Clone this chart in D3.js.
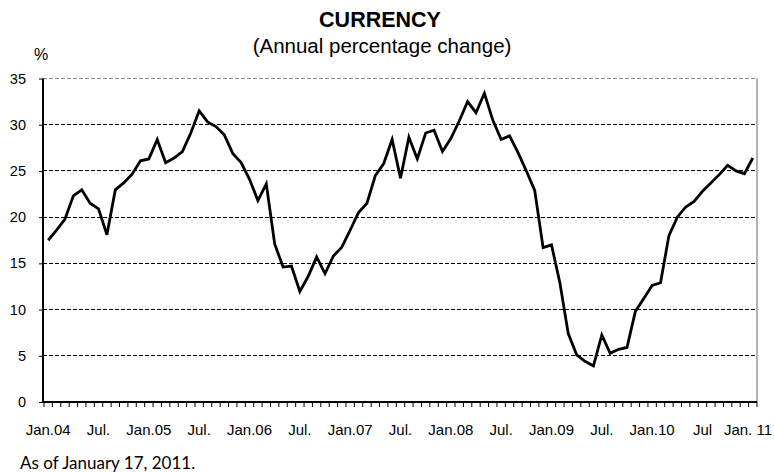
<!DOCTYPE html>
<html><head><meta charset="utf-8">
<script src="https://cdn.jsdelivr.net/npm/d3@7/dist/d3.min.js"></script>
<style>body{margin:0;background:#fff}svg{display:block}</style>
</head><body><svg id="c" width="774" height="472"></svg>
<script>
// Monthly annual % change of currency, Jan.2004 .. Jan.2011
const values = [
 17.5,18.6,19.8,22.3,22.95,21.5,20.9,18.1,22.95,23.7,24.65,26.1,
 26.3,28.4,25.9,26.4,27.1,29.1,31.5,30.3,29.8,28.9,26.9,25.9,
 24.1,21.8,23.6,17.1,14.6,14.7,11.95,13.6,15.7,13.9,15.8,16.75,
 18.6,20.5,21.5,24.5,25.8,28.4,24.2,28.65,26.3,29.1,29.4,27.1,
 28.5,30.4,32.5,31.3,33.4,30.5,28.4,28.8,27.0,25.0,22.9,16.7,
 17.0,12.9,7.4,5.1,4.4,3.9,7.25,5.27,5.7,5.9,9.8,11.2,
 12.6,12.9,18.0,20.0,21.1,21.7,22.8,23.7,24.6,25.6,25.0,24.7,
 26.4
];
const months = values.map((v,i)=>i);
const tickLabels = ["Jan.04","Jul.","Jan.05","Jul.","Jan.06","Jul.","Jan.07","Jul.","Jan.08","Jul.","Jan.09","Jul.","Jan.10","Jul","Jan. 11"];
const tickIndex = tickLabels.map((t,k)=>k*6);
const yTicks = [0,5,10,15,20,25,30,35];

const svg = d3.select("#c");
const L=43, R=757, T=78.5, B=402;
const x = d3.scaleBand().domain(months).range([44,757]).padding(0);
const cx = i => x(i)+x.bandwidth()/2;
const y = d3.scaleLinear().domain([0,35]).range([B,T]);
const font = "'Liberation Sans', Arial, sans-serif";

// gridlines
svg.append("g").selectAll("line").data(yTicks.filter(d=>d>0)).join("line")
  .attr("x1",L).attr("x2",R).attr("y1",d=>y(d)).attr("y2",d=>y(d))
  .attr("stroke",d=>d===35?"#888":"#000").attr("stroke-width",1)
  .attr("stroke-dasharray","4,2").attr("shape-rendering","crispEdges");
// right border
svg.append("line").attr("x1",R).attr("x2",R).attr("y1",y(35)).attr("y2",B)
  .attr("stroke","#999").attr("stroke-width",1.5);

// y axis
const ya = svg.append("g").attr("transform",`translate(${L},0)`)
  .call(d3.axisLeft(y).tickValues(yTicks).tickSize(4).tickPadding(13));
ya.select(".domain").attr("stroke","#000").attr("stroke-width",2).attr("d",`M0,${T}V${B}`);
ya.selectAll("text").attr("font-family",font).attr("font-size",14.5).attr("fill","#000");

// x axis
const xa = svg.append("g").attr("transform",`translate(0,${B})`);
xa.append("line").attr("x1",L).attr("x2",R).attr("stroke","#000").attr("stroke-width",2);
const bounds = months.map(i=>x(i)).concat([x(months[months.length-1])+x.bandwidth()]);
xa.selectAll("line.t").data(bounds).join("line").attr("class","t")
  .attr("x1",d=>d).attr("x2",d=>d).attr("y1",0).attr("y2",5).attr("stroke","#000").attr("stroke-width",1);
const last = tickIndex.length-1;
xa.selectAll("text").data(tickIndex).join("text")
  .attr("x",(d,k)=>k===last?772:cx(d)).attr("y",32.5)
  .attr("text-anchor",(d,k)=>k===last?"end":"middle")
  .attr("font-family",font).attr("font-size",15).text((d,k)=>tickLabels[k]);

// line
svg.append("path").datum(values)
  .attr("d",d3.line().x((d,i)=>cx(i)).y(d=>y(d)))
  .attr("fill","none").attr("stroke","#000").attr("stroke-width",2.8).attr("stroke-linejoin","miter");

// titles
svg.append("text").attr("x",380).attr("y",27).attr("text-anchor","middle")
  .attr("font-family",font).attr("font-weight","bold").attr("font-size",21.5).text("CURRENCY");
svg.append("text").attr("x",382).attr("y",53).attr("text-anchor","middle")
  .attr("font-family",font).attr("font-size",20.5).text("(Annual percentage change)");
svg.append("text").attr("x",41).attr("y",60).attr("text-anchor","middle")
  .attr("font-family",font).attr("font-size",16).text("%");
svg.append("text").attr("x",20).attr("y",469)
  .attr("font-family","Lato, 'Open Sans', sans-serif").attr("font-size",17).text("As of January 17, 2011.");
</script></body></html>
